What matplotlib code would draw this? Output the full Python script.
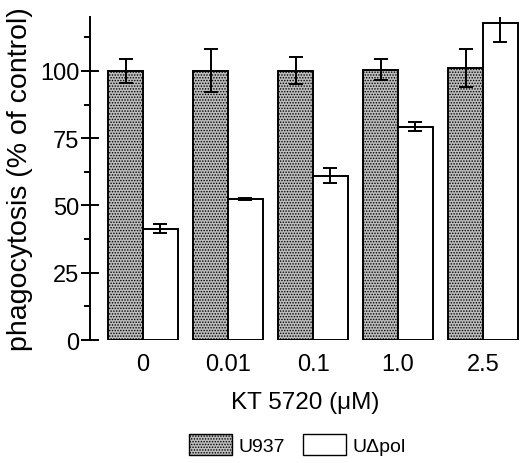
import matplotlib.pyplot as plt
import numpy as np
from matplotlib.patches import Patch
from matplotlib.ticker import MultipleLocator

plt.rcParams['font.family'] = ['Liberation Sans', 'DejaVu Sans']
plt.rcParams['hatch.color'] = '#3a3a3a'
plt.rcParams['hatch.linewidth'] = 0.7

doses = ['0', '0.01', '0.1', '1.0', '2.5']
u937 = [100, 100, 100, 100.5, 101]
u937_err = [4.5, 8, 5, 3.8, 7]
udpol = [41.3, 52.4, 61.1, 79.2, 117.7]
udpol_err = [1.7, 0.5, 2.9, 1.7, 6.8]

fig = plt.figure(figsize=(5.2, 4.64), dpi=100)
ax = fig.add_axes([0.173, 0.265, 0.827, 0.696])

x = np.arange(len(doses))
w = 0.41
ax.bar(x - w / 2, u937, w, yerr=u937_err, color='#bdbdbd', hatch='......',
       edgecolor='black', linewidth=1.4, capsize=5,
       error_kw=dict(elinewidth=1.4, capthick=1.4))
ax.bar(x + w / 2, udpol, w, yerr=udpol_err, color='white',
       edgecolor='black', linewidth=1.4, capsize=5,
       error_kw=dict(elinewidth=1.4, capthick=1.4))

ax.set_ylim(0, 120)
ax.set_xlim(-0.624, 4.435)
ax.yaxis.set_major_locator(MultipleLocator(25))
ax.yaxis.set_minor_locator(MultipleLocator(12.5))
ax.tick_params(axis='y', which='major', direction='inout', length=13, width=1.4,
               labelsize=17, pad=1)
ax.tick_params(axis='y', which='minor', length=4, width=1.4)
ax.set_xticks(x)
ax.set_xticklabels(doses)
ax.tick_params(axis='x', length=0, labelsize=17, pad=9)
for s in ['top', 'right', 'bottom']:
    ax.spines[s].set_visible(False)
ax.spines['left'].set_linewidth(1.4)

ax.set_ylabel('phagocytosis (% of control)', fontsize=20.5, labelpad=5)
ax.set_xlabel('KT 5720 (\u03bcM)', fontsize=17.5, labelpad=12)

handles = [Patch(facecolor='#bdbdbd', hatch='......', edgecolor='black', label='U937'),
           Patch(facecolor='white', edgecolor='black', label='U\u0394pol')]
fig.legend(handles=handles, loc='center', bbox_to_anchor=(0.572, 0.04), ncol=2,
           frameon=False, fontsize=14, handlelength=2.2, handleheight=1.3,
           columnspacing=0.9, handletextpad=0.35)

fig.savefig('out.png', dpi=100)
